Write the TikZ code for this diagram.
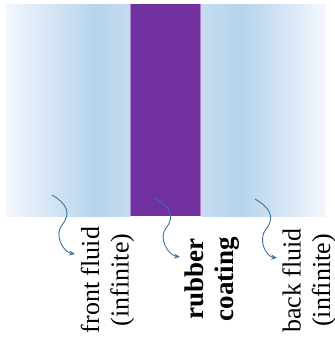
\documentclass[tikz,border=0pt]{standalone}
\usepackage{fontspec}
\setmainfont{Liberation Serif}
\usetikzlibrary{arrows.meta,calc}
\definecolor{fluidblue}{RGB}{181,211,236}
\definecolor{fluidmid}{RGB}{198,220,240}
\definecolor{fluidpale}{RGB}{243,247,252}
\definecolor{rubber}{RGB}{112,48,160}
\definecolor{rubberedge}{RGB}{170,130,205}
\definecolor{arrowblue}{RGB}{65,113,156}
\tikzset{
  label/.style={rotate=90,align=center,inner sep=0pt,font=\fontsize{26}{29.5}\selectfont},
  boldlabel/.style={label,font=\fontsize{27}{30}\selectfont\bfseries},
  pointer/.style={draw=arrowblue,line width=0.9pt,-{Stealth[length=6pt,width=5pt,inset=2pt]}}
}
\begin{document}
\begin{tikzpicture}[x=1pt,y=-1pt]
\useasboundingbox (0,0) rectangle (335,338);
% front fluid
\shade[left color=fluidpale,right color=fluidblue] (6,4) rectangle (97,216);
\shade[left color=fluidblue,right color=fluidmid] (97,4) rectangle (130,216);
% rubber
\fill[rubber] (130,4) rectangle (201,216);
\draw[rubberedge,line width=0.6pt] (130.3,4) -- (130.3,216) (200.7,4) -- (200.7,216);
% back fluid
\shade[left color=fluidmid,right color=fluidblue] (201,4) rectangle (240,216);
\shade[left color=fluidblue,right color=fluidpale] (240,4) rectangle (326,216);
% labels
\node[label] (front) at (107.5,280) {front fluid\\(infinite)};
\node[boldlabel] (coat) at (212,279) {rubber\\coating};
\node[label] (back) at (309,280.5) {back fluid\\(infinite)};
% pointers
\coordinate (fs) at (52,195);
\coordinate (fm) at (62,225);
\coordinate (fe) at (75,254);
\coordinate (cs) at (155,198);
\coordinate (cm) at (166,228);
\coordinate (ce) at (180,257);
\coordinate (bs) at (255,199);
\coordinate (bm) at (266,229);
\coordinate (be) at (277,258);
\draw[pointer] (fs) .. controls ($(fs)+(14,8)$) and ($(fm)+(10,-12)$) .. (fm) .. controls ($(fm)+(-8,10)$) and ($(fe)+(-12,-2)$) .. (fe);
\draw[pointer] (cs) .. controls ($(cs)+(14,8)$) and ($(cm)+(10,-12)$) .. (cm) .. controls ($(cm)+(-8,10)$) and ($(ce)+(-12,-2)$) .. (ce);
\draw[pointer] (bs) .. controls ($(bs)+(14,8)$) and ($(bm)+(10,-12)$) .. (bm) .. controls ($(bm)+(-8,10)$) and ($(be)+(-12,-2)$) .. (be);
\end{tikzpicture}
\end{document}
